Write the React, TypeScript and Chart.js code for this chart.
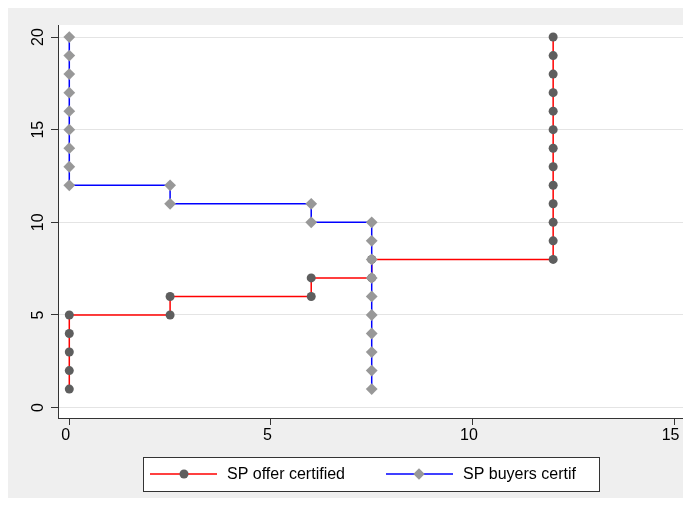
import { useEffect, useRef } from "react";
import { Chart, registerables } from "chart.js";
Chart.register(...registerables);

const seriesNames = ["SP offer certified", "SP buyers certif"];
const offerX = [0, 0, 0, 0, 0, 2.5, 2.5, 6, 6, 7.5, 7.5, 12, 12, 12, 12, 12, 12, 12, 12, 12, 12, 12, 12, 12];
const offerY = [1, 2, 3, 4, 5, 5, 6, 6, 7, 7, 8, 8, 9, 10, 11, 12, 13, 14, 15, 16, 17, 18, 19, 20];
const buyersX = [0, 0, 0, 0, 0, 0, 0, 0, 0, 2.5, 2.5, 6, 6, 7.5, 7.5, 7.5, 7.5, 7.5, 7.5, 7.5, 7.5, 7.5, 7.5];
const buyersY = [20, 19, 18, 17, 16, 15, 14, 13, 12, 12, 11, 11, 10, 10, 9, 8, 7, 6, 5, 4, 3, 2, 1];
const xTicks = [0, 5, 10, 15];
const yTicks = [0, 5, 10, 15, 20];

const FONT = '"Liberation Sans", Arial, sans-serif';
const RED = "#ff0000";
const BLUE = "#0000ff";
const CIRCLE = "#5e5e5e";
const DIAMOND = "#989898";

export default function App() {
  const ref = useRef<HTMLCanvasElement | null>(null);
  useEffect(() => {
    if (!ref.current) return;
    const plugin = {
      id: "stataDecor",
      beforeDraw(chart: any) {
        const { ctx, chartArea } = chart;
        ctx.save();
        ctx.fillStyle = "#ffffff";
        ctx.fillRect(chartArea.left, chartArea.top, chartArea.right - chartArea.left, chartArea.bottom - chartArea.top);
        ctx.restore();
      },
      afterDraw(chart: any) {
        const { ctx, chartArea } = chart;
        const ys = chart.scales.y;
        ctx.save();
        ctx.fillStyle = "#000";
        ctx.font = `16px ${FONT}`;
        ctx.textAlign = "center";
        ctx.textBaseline = "alphabetic";
        for (const v of yTicks) {
          const py = ys.getPixelForValue(v);
          ctx.save();
          ctx.translate(chartArea.left - 15, py);
          ctx.rotate(-Math.PI / 2);
          ctx.fillText(String(v), 0, 0);
          ctx.restore();
        }
        // legend
        const lx = 136, ly = 449, lw = 456, lh = 34;
        ctx.fillStyle = "#ffffff";
        ctx.fillRect(lx, ly, lw, lh);
        ctx.strokeStyle = "#333";
        ctx.lineWidth = 1;
        ctx.strokeRect(lx + 0.5, ly + 0.5, lw, lh);
        const cy = ly + 17;
        const items = [
          { x0: 143, x1: 210, mx: 177, tx: 220, color: RED, marker: "circle" },
          { x0: 379, x1: 446, mx: 412, tx: 456, color: BLUE, marker: "diamond" },
        ];
        items.forEach((it, i) => {
          ctx.strokeStyle = it.color;
          ctx.lineWidth = 1.5;
          ctx.beginPath();
          ctx.moveTo(it.x0, cy);
          ctx.lineTo(it.x1, cy);
          ctx.stroke();
          ctx.beginPath();
          if (it.marker === "circle") {
            ctx.fillStyle = CIRCLE;
            ctx.arc(it.mx, cy, 4.5, 0, Math.PI * 2);
          } else {
            ctx.fillStyle = DIAMOND;
            const r = 5.7;
            ctx.moveTo(it.mx - r, cy);
            ctx.lineTo(it.mx, cy - r);
            ctx.lineTo(it.mx + r, cy);
            ctx.lineTo(it.mx, cy + r);
            ctx.closePath();
          }
          ctx.fill();
          ctx.fillStyle = "#000";
          ctx.textAlign = "left";
          ctx.textBaseline = "middle";
          ctx.font = `16px ${FONT}`;
          ctx.fillText(seriesNames[i], it.tx, cy + 1);
        });
        ctx.restore();
      },
    };
    const chart = new Chart(ref.current, {
      type: "line",
      data: {
        datasets: [
          {
            label: seriesNames[0],
            data: offerX.map((x, i) => ({ x, y: offerY[i] })),
            borderColor: RED,
            borderWidth: 1.5,
            pointStyle: "circle",
            pointRadius: 4.5,
            pointBackgroundColor: CIRCLE,
            pointBorderColor: CIRCLE,
            pointBorderWidth: 0,
            tension: 0,
            order: 2,
          },
          {
            label: seriesNames[1],
            data: buyersX.map((x, i) => ({ x, y: buyersY[i] })),
            borderColor: BLUE,
            borderWidth: 1.5,
            pointStyle: "rectRot",
            pointRadius: 5.9,
            pointBackgroundColor: DIAMOND,
            pointBorderColor: DIAMOND,
            pointBorderWidth: 0,
            tension: 0,
            order: 1,
          },
        ],
      },
      options: {
        animation: false,
        responsive: false,
        maintainAspectRatio: false,
        events: [],
        layout: { padding: { left: 0, top: 17, right: 6, bottom: 0 } },
        plugins: { legend: { display: false }, tooltip: { enabled: false } },
        scales: {
          x: {
            type: "linear",
            min: -0.28,
            max: 15.27,
            afterBuildTicks: (s: any) => { s.ticks = xTicks.map((v) => ({ value: v })); },
            afterFit: (s: any) => { s.height = 80; },
            grid: { drawOnChartArea: false, drawTicks: true, tickLength: 7, tickColor: "#333", lineWidth: 1 },
            border: { display: true, color: "#333", width: 1 },
            ticks: { color: "#000", font: { family: FONT, size: 16 }, padding: 1, maxRotation: 0, minRotation: 0, labelOffset: -3.5 },
          },
          y: {
            type: "linear",
            min: -0.56,
            max: 20.65,
            afterBuildTicks: (s: any) => { s.ticks = yTicks.map((v) => ({ value: v })); },
            afterFit: (s: any) => { s.width = 51; },
            grid: { drawOnChartArea: true, drawTicks: true, tickLength: 7, color: "#e4e4e4", tickColor: "#333", lineWidth: 1 },
            border: { display: true, color: "#333", width: 1 },
            ticks: { display: false },
          },
        },
      },
      plugins: [plugin],
    } as any);
    return () => chart.destroy();
  }, []);
  return (
    <div style={{ marginLeft: -1, width: 684, height: 490, background: "#efefef" }}>
      <canvas ref={ref} width={684} height={490} style={{ display: "block", width: 684, height: 490 }} />
    </div>
  );
}
